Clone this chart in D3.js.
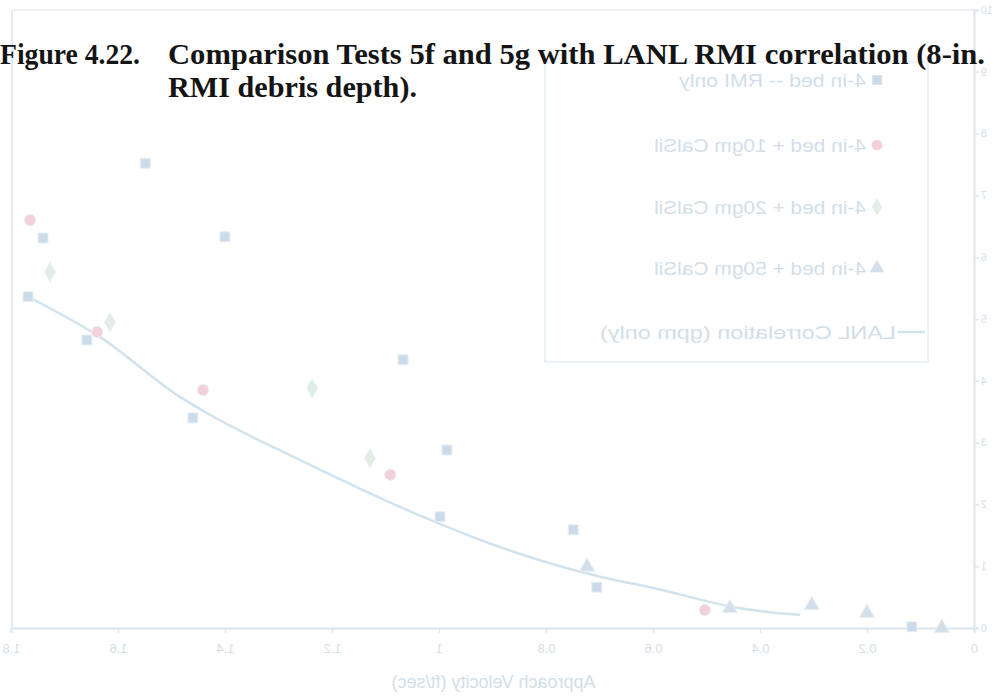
<!DOCTYPE html>
<html><head><meta charset="utf-8">
<script src="https://cdn.jsdelivr.net/npm/d3@7"></script>
<style>body{margin:0;background:#fff}svg{display:block}</style>
</head><body>
<svg id="c" width="994" height="698"></svg>
<script>
// ---- data (the chart body is printed mirrored) ----
const titleLine1a = "Figure 4.22.";
const titleLine1b = "Comparison Tests 5f and 5g with LANL RMI correlation (8-in.";
const titleLine2 = "RMI debris depth).";
const xLabel = "Approach Velocity (ft/sec)";
const xTickValues = [0, 0.2, 0.4, 0.6, 0.8, 1, 1.2, 1.4, 1.6, 1.8];
const yTickValues = [0, 1, 2, 3, 4, 5, 6, 7, 8, 9, 10];
const seriesNames = ["4-in bed -- RMI only", "4-in bed + 10gm CalSil", "4-in bed + 20gm CalSil", "4-in bed + 50gm CalSil"];
const correlationName = "LANL Correlation (gpm only)";
const rmiOnlyX = [1.770, 1.742, 1.660, 1.551, 1.462, 1.402, 1.069, 0.987, 1.000, 0.751, 0.707, 0.118];
const rmiOnlyY = [5.36, 6.31, 4.66, 7.52, 3.40, 6.33, 4.34, 2.88, 1.80, 1.59, 0.66, 0.02];
const cal10X = [1.766, 1.641, 1.443, 1.093, 0.505];
const cal10Y = [6.60, 4.79, 3.85, 2.48, 0.29];
const cal20X = [1.729, 1.617, 1.239, 1.131];
const cal20Y = [5.76, 4.95, 3.88, 2.75];
const cal50X = [0.725, 0.458, 0.305, 0.202, 0.062];
const cal50Y = [0.99, 0.32, 0.37, 0.24, 0.00];
const corrX = [1.770, 1.636, 1.486, 1.430, 1.262, 1.075, 0.888, 0.701, 0.607, 0.439, 0.327];
const corrY = [5.36, 4.71, 3.74, 3.45, 2.72, 1.96, 1.31, 0.83, 0.66, 0.32, 0.21];

(function () {
const W = 994, H = 698;
const svg = d3.select("#c");
svg.append("rect").attr("width", W).attr("height", H).attr("fill", "#fff");

// Chart body, drawn normally then mirrored horizontally as in the scan
const g = svg.append("g").attr("transform", `translate(${W},0) scale(-1,1)`);
const pL = 19, pR = 982, pT = 10, pB = 628;
const x = d3.scaleLinear().domain([0, 1.8]).range([pL, pR]);
const y = d3.scaleLinear().domain([0, 10]).range([pB, pT]);
const faint = "#dce6ef", faintText = "#d3dee8";
const sans = "'Liberation Sans',Arial,sans-serif";

// frame
g.append("line").attr("x1", pL).attr("x2", pR).attr("y1", pT).attr("y2", pT).attr("stroke", "#e8eef4").attr("stroke-width", 1.5);
g.append("line").attr("x1", pR).attr("x2", pR).attr("y1", pT).attr("y2", pB).attr("stroke", "#e4ecf3").attr("stroke-width", 2);

const xAxis = g.append("g").attr("transform", `translate(0,${pB})`)
  .call(d3.axisBottom(x).tickValues(xTickValues).tickFormat(d3.format("~g")).tickSize(5));
const yAxis = g.append("g").attr("transform", `translate(${pL},0)`)
  .call(d3.axisLeft(y).tickValues(yTickValues).tickFormat(d3.format("~g")).tickSize(4).tickPadding(2));
[xAxis, yAxis].forEach(a => {
  a.select(".domain").attr("stroke", faint).attr("stroke-width", 2);
  a.selectAll(".tick line").attr("stroke", faint).attr("stroke-width", 1.5);
  a.selectAll(".tick text").attr("fill", faintText).attr("font-family", sans).attr("font-size", 13);
});
yAxis.selectAll(".tick text").attr("font-size", 10.5);
xAxis.selectAll(".tick text").attr("dy", "1.3em");

g.append("text").attr("x", (pL + pR) / 2).attr("y", 688).attr("text-anchor", "middle")
  .attr("font-family", sans).attr("font-size", 18).attr("fill", faintText).text(xLabel);

// correlation line
const line = d3.line().x(d => x(d[0])).y(d => y(d[1])).curve(d3.curveMonotoneX);
g.append("path").datum(d3.zip(corrX, corrY)).attr("d", line).attr("fill", "none")
  .attr("stroke", "#d2e3ed").attr("stroke-width", 2.5);

// points
const series = [
  {xs: rmiOnlyX, ys: rmiOnlyY, sym: d3.symbolSquare, col: "#ccdbe9"},
  {xs: cal10X, ys: cal10Y, sym: d3.symbolCircle, col: "#f3d0da"},
  {xs: cal20X, ys: cal20Y, sym: d3.symbolDiamond, col: "#e2eee5"},
  {xs: cal50X, ys: cal50Y, sym: d3.symbolTriangle, col: "#d3dfea"}
];
series.forEach(s => {
  g.append("g").selectAll("path").data(d3.zip(s.xs, s.ys)).join("path")
    .attr("transform", d => `translate(${x(d[0])},${y(d[1])})`)
    .attr("d", d3.symbol().type(s.sym).size(100))
    .attr("fill", s.col).attr("stroke", "#e8eff5").attr("stroke-width", 1);
});

// legend
const lg = g.append("g");
lg.append("rect").attr("x", 66).attr("y", 62).attr("width", 383).attr("height", 300)
  .attr("fill", "#fff").attr("stroke", "#e8eef4").attr("stroke-width", 1.5);
const legY = [80, 145, 207, 268];
const legLen = [187, 212, 212, 212];
series.forEach((s, i) => {
  lg.append("path").attr("transform", `translate(117,${legY[i]})`)
    .attr("d", d3.symbol().type(s.sym).size(90)).attr("fill", s.col);
  lg.append("text").attr("x", 128).attr("y", legY[i] + 7).attr("font-family", sans)
    .attr("font-size", 19).attr("fill", faintText).attr("textLength", legLen[i])
    .attr("lengthAdjust", "spacingAndGlyphs").text(seriesNames[i]);
});
lg.append("line").attr("x1", 69).attr("x2", 96).attr("y1", 332).attr("y2", 332).attr("stroke", "#d2e3ed").attr("stroke-width", 2.5);
lg.append("text").attr("x", 98).attr("y", 339).attr("font-family", sans)
  .attr("font-size", 19).attr("fill", faintText).attr("textLength", 296)
  .attr("lengthAdjust", "spacingAndGlyphs").text(correlationName);

// Title (normal orientation), drawn on top
const title = svg.append("text").attr("font-family", "'Liberation Serif','Times New Roman',serif")
  .attr("font-weight", "bold").attr("font-size", 30).attr("fill", "#141414");
title.append("tspan").attr("x", 0).attr("y", 64).attr("textLength", 140).attr("lengthAdjust", "spacingAndGlyphs").text(titleLine1a);
title.append("tspan").attr("x", 168).attr("y", 64).attr("textLength", 817).attr("lengthAdjust", "spacingAndGlyphs").text(titleLine1b);
title.append("tspan").attr("x", 168).attr("y", 97).attr("textLength", 249).attr("lengthAdjust", "spacingAndGlyphs").text(titleLine2);
})();
</script>
</body></html>
